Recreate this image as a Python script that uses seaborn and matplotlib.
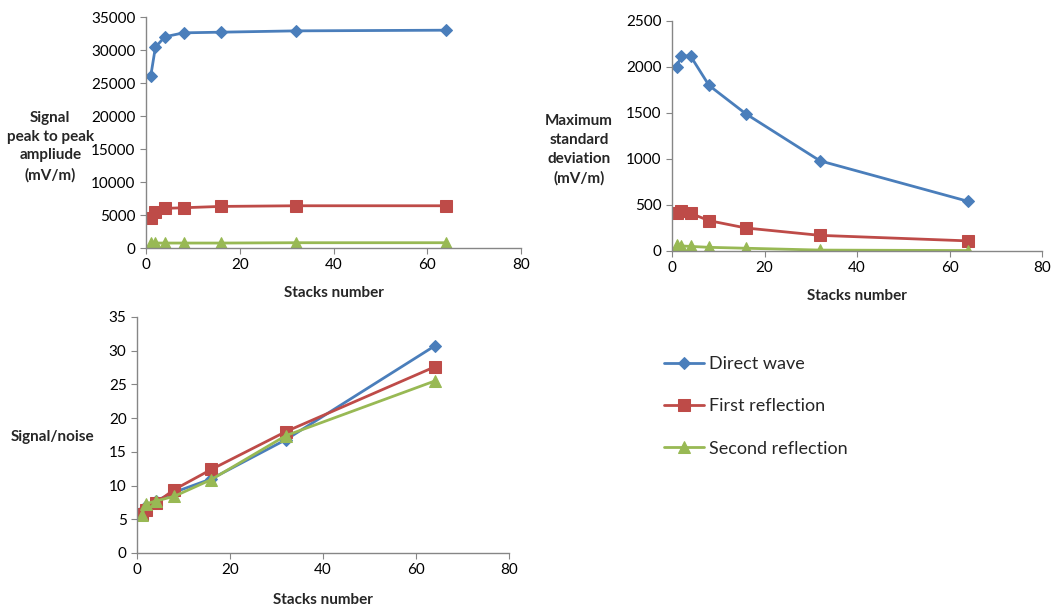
import numpy as np
import pandas as pd
import matplotlib
matplotlib.use("Agg")
import matplotlib.pyplot as plt
import seaborn as sns

sns.set_style("white")
plt.rcParams['font.family'] = ['Lato', 'DejaVu Sans']

stacks = [1, 2, 4, 8, 16, 32, 64]
series_names = ["Direct wave", "First reflection", "Second reflection"]

# signal peak to peak amplitude (mV/m)
amp_direct = [26000, 30400, 32000, 32600, 32700, 32900, 33000]
amp_first = [4600, 5500, 6000, 6100, 6300, 6400, 6400]
amp_second = [700, 750, 750, 750, 750, 800, 800]

# maximum standard deviation (mV/m)
std_direct = [2000, 2120, 2120, 1800, 1490, 980, 540]
std_first = [410, 430, 410, 330, 250, 170, 110]
std_second = [60, 55, 50, 40, 30, 10, 5]

# signal/noise
snr_direct = [6.2, 7.0, 7.7, 9.0, 11.0, 16.8, 30.7]
snr_first = [5.8, 6.4, 7.4, 9.4, 12.4, 18.0, 27.6]
snr_second = [5.7, 7.3, 7.7, 8.4, 10.9, 17.4, 25.5]

colors = ["#4A7EBB", "#BE4B48", "#98B954"]
markers = ["D", "s", "^"]
msizes = [6, 8, 8]

W, H = 1063, 610
fig = plt.figure(figsize=(W / 100, H / 100), dpi=100)


def px_axes(left, right, top, bottom):
    return fig.add_axes([left / W, 1 - bottom / H, (right - left) / W, (bottom - top) / H])


def draw(ax, data, ymax, ystep, ylabel, ylab_xy, xlab_y):
    for vals, c, m, ms, name in zip(data, colors, markers, msizes, series_names):
        sns.lineplot(x=stacks, y=vals, ax=ax, color=c, marker=m, markersize=ms,
                     markeredgecolor=c, linewidth=2, label=name, legend=False)
    ax.set_xlim(0, 80)
    ax.set_ylim(0, ymax)
    ax.set_xticks(np.arange(0, 81, 20))
    ax.set_yticks(np.arange(0, ymax + 1, ystep))
    for s in ["top", "right"]:
        ax.spines[s].set_visible(False)
    for s in ["left", "bottom"]:
        ax.spines[s].set_color("#868686")
        ax.spines[s].set_linewidth(1)
    ax.tick_params(axis="both", direction="out", length=4, color="#868686",
                   labelsize=11, labelcolor="black", left=True, bottom=True)
    ax.set_xlabel("Stacks number", fontsize=11, fontweight="bold", va="center")
    ax.xaxis.set_label_coords(0.5, xlab_y)
    ax.set_ylabel(ylabel, fontsize=11, fontweight="bold", rotation=0,
                  ha="center", va="center", multialignment="center",
                  linespacing=1.45)
    ax.yaxis.set_label_coords(*ylab_xy)


ax1 = px_axes(146, 521, 17, 248)
draw(ax1, [amp_direct, amp_first, amp_second], 35000, 5000,
     "Signal\npeak to peak\nampliude\n(mV/m)", (-0.255, 0.44), -0.195)

ax2 = px_axes(672, 1042, 21, 251)
draw(ax2, [std_direct, std_first, std_second], 2500, 500,
     "Maximum\nstandard\ndeviation\n(mV/m)", (-0.251, 0.44), -0.196)

ax3 = px_axes(137, 509, 317, 553)
draw(ax3, [snr_direct, snr_first, snr_second], 35, 5,
     "Signal/noise", (-0.228, 0.49), -0.2)

handles, labels = ax3.get_legend_handles_labels()
fig.legend(handles, labels, loc="upper left", bbox_to_anchor=(648 / W, 1 - 340 / H),
           frameon=False, fontsize=13, handlelength=2.2, handletextpad=0.3,
           labelspacing=1.45)

fig.savefig("out.png", dpi=100)
